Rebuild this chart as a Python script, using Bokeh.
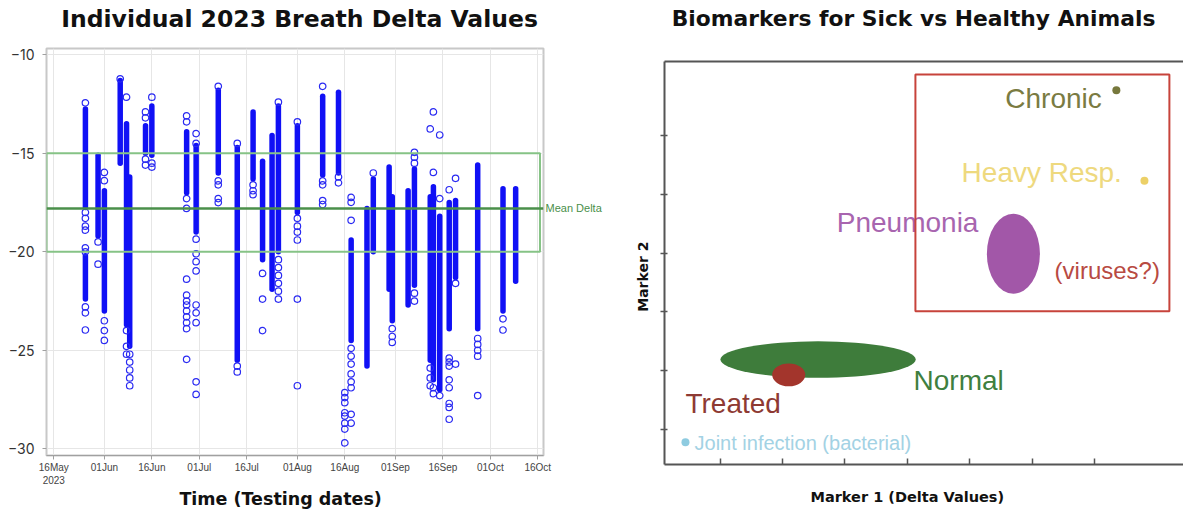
import numpy as np
import pandas as pd
from bokeh.plotting import figure
from bokeh.models import (FixedTicker, DatetimeTickFormatter, Span, BoxAnnotation,
                          LinearAxis, Range1d, ColumnDataSource, CustomLabelingPolicy)
from bokeh.core.properties import value
from bokeh.embed import file_html
from bokeh.resources import INLINE

# ---------------- Left chart data ----------------
strip_dates = ["2023-05-26", "2023-05-26", "2023-05-30", "2023-06-01", "2023-06-06",
               "2023-06-08", "2023-06-09", "2023-06-14", "2023-06-16", "2023-06-27",
               "2023-06-30", "2023-07-07", "2023-07-13", "2023-07-18", "2023-07-21",
               "2023-07-24", "2023-07-26", "2023-08-01", "2023-08-09", "2023-08-14",
               "2023-08-18", "2023-08-23", "2023-08-25", "2023-08-30", "2023-08-31",
               "2023-09-05", "2023-09-07", "2023-09-12", "2023-09-13", "2023-09-15",
               "2023-09-18", "2023-09-20", "2023-09-27", "2023-10-05", "2023-10-09"]
strip_top = [-12.75, -20.2, -15.1, -16.9, -11.3, -13.5, -16.2, -13.6, -12.6, -13.9,
             -14.6, -11.8, -14.7, -12.9, -15.4, -14.1, -12.6, -13.6, -12.1, -11.9,
             -19.4, -17.8, -16.3, -15.7, -17.2, -16.9, -15.8, -17.2, -16.7, -18.2,
             -17.5, -17.4, -15.6, -16.8, -16.8]
strip_bottom = [-17.75, -22.4, -19.2, -23.0, -15.5, -23.7, -24.8, -15.0, -15.1, -17.0,
                -19.0, -16.0, -25.5, -16.3, -20.4, -21.9, -20.0, -18.0, -16.1, -16.0,
                -24.5, -25.8, -20.0, -21.9, -23.5, -22.7, -21.7, -25.5, -26.5, -27.0,
                -23.9, -21.3, -23.9, -23.0, -21.5]

outlier_dates = ["2023-05-26", "2023-05-30", "2023-06-01", "2023-06-06", "2023-06-08",
                 "2023-06-09", "2023-06-14", "2023-06-16", "2023-06-27", "2023-06-30",
                 "2023-07-07", "2023-07-13", "2023-07-18", "2023-07-21", "2023-07-26",
                 "2023-08-01", "2023-08-09", "2023-08-14", "2023-08-16", "2023-08-18",
                 "2023-08-25", "2023-08-31", "2023-09-07", "2023-09-12", "2023-09-13",
                 "2023-09-15", "2023-09-18", "2023-09-20", "2023-09-27", "2023-10-05"]
outlier_values = [
    [-12.44, -18.0, -18.3, -18.7, -18.9, -19.8, -20.0, -22.8, -23.1, -23.97],
    [-19.5, -20.63],
    [-15.97, -16.39, -23.5, -24.0, -24.5],
    [-11.22],
    [-12.15, -24.0, -24.8, -25.2],
    [-25.2, -25.6, -26.0, -26.4, -26.8],
    [-12.9, -13.2, -15.3, -15.6],
    [-12.15, -15.5, -15.7],
    [-13.1, -13.4, -17.3, -17.8, -21.39, -22.2, -22.5, -22.7, -23.0, -23.3, -23.6, -23.9, -25.46],
    [-14.0, -14.5, -19.36, -20.1, -20.5, -20.97, -22.7, -23.1, -23.6, -26.6, -27.24],
    [-11.6, -16.4, -16.6, -17.3, -17.5],
    [-14.5, -25.8, -26.1],
    [-16.6, -16.9, -17.1],
    [-21.1, -22.4, -24.0],
    [-12.4, -20.4, -20.8, -21.2, -21.6, -22.0, -22.4],
    [-13.4, -18.3, -18.7, -19.0, -19.4, -22.4, -26.8],
    [-11.6, -16.4, -16.6, -17.4, -17.6],
    [-16.2, -16.5],
    [-27.15, -27.4, -27.66, -28.17, -28.34, -28.7, -29.0, -29.7],
    [-17.24, -17.49, -18.4, -24.9, -25.3, -25.7, -26.2, -26.6, -26.9, -28.25, -28.7],
    [-16.0],
    [-23.9, -24.3, -24.6],
    [-14.95, -15.2, -15.5, -22.1, -22.5],
    [-13.76, -25.9, -26.4, -26.8],
    [-12.9, -15.97, -26.9, -27.2],
    [-14.07, -17.3, -27.3],
    [-16.85, -25.4, -25.6, -25.8, -26.5, -26.9, -27.7, -27.9, -28.5],
    [-16.27, -21.6, -25.7],
    [-24.4, -24.7, -25.0, -25.3, -27.3],
    [-23.4, -23.97],
]

mean_delta = -17.8
mean_label = "Mean Delta"
band_high = -15.0
band_low = -20.0
tick_dates = ["2023-05-16", "2023-06-01", "2023-06-16", "2023-07-01", "2023-07-16",
              "2023-08-01", "2023-08-16", "2023-09-01", "2023-09-16", "2023-10-01",
              "2023-10-16"]
y_ticks = [-30, -25, -20, -15, -10]
left_title = "Individual 2023 Breath Delta Values"
left_xlabel = "Time (Testing dates)"

# ---------------- Right chart data ----------------
region_names = ["Normal", "Treated", "Pneumonia"]
region_x = [2.57, 2.10, 5.70]
region_y = [2.19, 1.93, 3.99]
region_w = [3.13, 0.53, 0.85]
region_h = [0.62, 0.39, 1.36]
region_colors = ["#3e7c3b", "#a3352c", "#a257a8"]

dot_names = ["Chronic", "Heavy Resp.", "Joint infection (bacterial)"]
dot_x = [7.35, 7.80, 0.445]
dot_y = [6.77, 5.23, 0.784]
dot_colors = ["#77783c", "#ecd067", "#8ecbe0"]

label_texts = ["Chronic", "Heavy Resp.", "Pneumonia", "(viruses?)", "Normal", "Treated",
               "Joint infection (bacterial)"]
label_x = [5.57, 4.87, 2.87, 6.36, 4.10, 0.445, 0.59]
label_y = [6.63, 5.37, 4.52, 3.70, 1.83, 1.44, 0.767]
label_colors = ["#7a7b42", "#eed97e", "#a865af", "#b84a42", "#3f7f3f", "#8e3a33", "#a3d2e4"]
label_sizes = ["28px", "28px", "28px", "24px", "28px", "28px", "20px"]

sick_box = dict(left=4.13, right=8.20, bottom=3.01, top=7.04)
marker1_ticks = [1, 2, 3, 4, 5, 6, 7]
marker2_ticks = [1, 2, 3, 4, 5, 6]
right_title = "Biomarkers for Sick vs Healthy Animals"
marker1_label = "Marker 1 (Delta Values)"
marker2_label = "Marker 2"

# ---------------- helpers ----------------
def ms(d):
    return pd.Timestamp(d).value / 1e6

DAY = 86400000.0
TITLE_FONT = "DejaVu Sans"

def no_labels():
    return CustomLabelingPolicy(code="return new Set()")

def text_axis(pos, text, size, standoff, bold=True, color="#111111", font=TITLE_FONT,
              orientation="horizontal", line_color=None):
    """An axis carrying a single text label at a chosen position along the frame edge."""
    return LinearAxis(ticker=FixedTicker(ticks=[pos]), major_label_overrides={pos: text},
                      major_label_orientation=orientation,
                      axis_line_color=line_color, axis_line_width=2,
                      major_tick_line_color=None, minor_tick_line_color=None,
                      major_tick_in=0, major_tick_out=0, major_label_standoff=standoff,
                      major_label_text_font=font, major_label_text_font_size=size,
                      major_label_text_font_style="bold" if bold else "normal",
                      major_label_text_color=color)

# ---------------- Left figure ----------------
x_start = ms(tick_dates[0]) - 2.3 * DAY
x_end = ms(tick_dates[-1]) + 1.8 * DAY

strip_src = ColumnDataSource(dict(d=[ms(d) for d in strip_dates], top=strip_top, bottom=strip_bottom))
od, ov = [], []
for d, vals in zip(outlier_dates, outlier_values):
    for v in vals:
        od.append(ms(d)); ov.append(v)
out_src = ColumnDataSource(dict(d=od, v=ov))

p1 = figure(width=612, height=512, x_axis_type="datetime",
            x_range=Range1d(x_start, x_end), y_range=Range1d(-30.34, -9.68),
            output_backend="svg", toolbar_location=None,
            min_border_left=46, min_border_right=69, min_border_top=48, min_border_bottom=57)

p1.outline_line_color = "#c8c8c8"
p1.outline_line_width = 2
p1.xgrid.grid_line_color = "#e6e6e6"
p1.ygrid.grid_line_color = "#e6e6e6"
p1.xaxis.ticker = FixedTicker(ticks=[ms(t) for t in tick_dates])
p1.yaxis.ticker = FixedTicker(ticks=y_ticks)
p1.xaxis.formatter = DatetimeTickFormatter(
    days="%d%b", months="%d%b", years="%d%b",
    context=DatetimeTickFormatter(days="%Y", months="%Y", years="%Y"),
    context_which="start")
for ax in (p1.xaxis, p1.yaxis):
    ax.axis_line_color = "#a0a0a0"
    ax.major_tick_line_color = "#a0a0a0"
    ax.minor_tick_line_color = None
    ax.major_tick_in = 0
    ax.major_tick_out = 4
p1.yaxis.axis_line_color = None
p1.xaxis.major_label_standoff = 2
p1.xaxis.major_label_text_font = "Liberation Sans"
p1.xaxis.major_label_text_font_size = "10px"
p1.xaxis.major_label_text_color = "#444444"
p1.yaxis.major_label_standoff = 8
p1.yaxis.major_label_text_font = "Inter"
p1.yaxis.major_label_text_font_size = "14px"
p1.yaxis.major_label_text_color = "#333333"

p1.segment(x0="d", y0="top", x1="d", y1="bottom", source=strip_src,
           line_width=5.5, line_color="#1010f5", line_cap="round")
p1.scatter(x="d", y="v", source=out_src, marker="circle", size=6.5,
           fill_color=None, line_color="#2a2af2", line_width=1.2)

p1.add_layout(BoxAnnotation(bottom=band_low, top=band_high, right=ms(tick_dates[-1]) + 0.7 * DAY,
                            fill_alpha=0, line_alpha=1, line_color="#86c386", line_width=2))
p1.add_layout(Span(location=mean_delta, dimension="width", line_color="#4a8f4a", line_width=2.5))
p1.add_layout(text_axis(mean_delta, mean_label, "11px", 2, bold=False, color="#4a8f4a",
                        font="Liberation Sans"), "right")
p1.add_layout(text_axis(ms(tick_dates[0]) + 77.7 * DAY, left_title, "23.5px", 16), "above")
p1.add_layout(text_axis(ms(tick_dates[0]) + 71.7 * DAY, left_xlabel, "17.5px", 0), "below")

# ---------------- Right figure ----------------
p2 = figure(width=571, height=512, x_range=Range1d(0.109, 8.426), y_range=Range1d(0.405, 7.26),
            output_backend="svg", toolbar_location=None,
            min_border_left=52, min_border_right=0, min_border_top=61, min_border_bottom=48)
p2.outline_line_color = None
p2.grid.grid_line_color = None

p2.xaxis.ticker = FixedTicker(ticks=marker1_ticks)
p2.yaxis.ticker = FixedTicker(ticks=marker2_ticks)
for ax in (p2.xaxis, p2.yaxis):
    ax.axis_line_color = "#555555"
    ax.axis_line_width = 2
    ax.major_tick_line_color = "#555555"
    ax.major_tick_line_width = 1.5
    ax.minor_tick_line_color = None
    ax.major_label_policy = no_labels()
    ax.major_label_standoff = 0
p2.xaxis.major_tick_in = 6
p2.xaxis.major_tick_out = 0
p2.yaxis.major_tick_in = 3
p2.yaxis.major_tick_out = 4

p2.add_layout(text_axis(3.60, marker2_label, "14px", 0, orientation="vertical"), "left")
p2.add_layout(text_axis(4.10, right_title, "21.8px", 31, line_color="#555555"), "above")
p2.add_layout(text_axis(4.00, marker1_label, "14.5px", 13), "below")

p2.add_layout(BoxAnnotation(fill_alpha=0, line_alpha=1, line_color="#c7433b", line_width=2, **sick_box))
p2.ellipse(x=region_x, y=region_y, width=region_w, height=region_h,
           fill_color=region_colors, line_color=None)
p2.scatter(x=dot_x, y=dot_y, marker="circle", size=8, fill_color=dot_colors, line_color=None)
lab_src = ColumnDataSource(dict(x=label_x, y=label_y, t=label_texts, c=label_colors, s=label_sizes))
p2.text(x="x", y="y", text="t", text_color="c", text_font_size="s", source=lab_src,
        text_font=value("Liberation Sans"), text_align="left", text_baseline="middle")

# Two independent roots placed side by side (so their frames are not aligned).
# (bokeh prepends "{% extends base %}" to a string template itself)
SIDE_BY_SIDE = """{% block preamble %}<style>body { display: flex !important; flex-direction: row; align-items: flex-start; }</style>{% endblock %}
"""
open("out.html", "w").write(file_html([p1, p2], INLINE, template=SIDE_BY_SIDE))
